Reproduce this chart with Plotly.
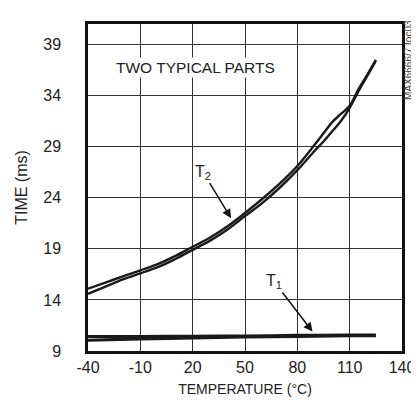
import plotly.graph_objects as go

temp_t2_a = [-40, -30, -20, -10, 0, 10, 20, 30, 40, 50, 60, 70, 80, 90, 95, 100, 105, 110, 115, 120, 125]
time_t2_a = [15.1, 15.7, 16.3, 16.9, 17.5, 18.3, 19.2, 20.1, 21.2, 22.5, 23.9, 25.4, 27.1, 29.2, 30.3, 31.4, 32.2, 33.0, 34.6, 36.0, 37.5]
temp_t2_b = [-40, -30, -20, -10, 0, 10, 20, 30, 40, 50, 60, 70, 80, 90, 95, 100, 105, 110, 115, 120, 125]
time_t2_b = [14.6, 15.3, 16.0, 16.6, 17.2, 18.0, 18.9, 19.8, 20.9, 22.2, 23.5, 25.0, 26.7, 28.6, 29.5, 30.5, 31.5, 32.8, 34.4, 35.9, 37.4]
temp_t1_a = [-40, -10, 20, 50, 80, 110, 125]
time_t1_a = [10.42, 10.42, 10.44, 10.47, 10.52, 10.55, 10.56]
temp_t1_b = [-40, -10, 20, 50, 80, 110, 125]
time_t1_b = [10.05, 10.18, 10.28, 10.37, 10.44, 10.49, 10.5]

x_ticks = [-40, -10, 20, 50, 80, 110, 140]
y_ticks = [9, 14, 19, 24, 29, 34, 39]

FONT = "Liberation Sans Narrow, Arial Narrow, Liberation Sans, sans-serif"

fig = go.Figure()
for xs, ys, w in [(temp_t2_a, time_t2_a, 2.4), (temp_t2_b, time_t2_b, 2.4),
                  (temp_t1_a, time_t1_a, 3.2), (temp_t1_b, time_t1_b, 3.2)]:
    fig.add_trace(go.Scatter(x=xs, y=ys, mode="lines",
                             line=dict(color="#1a1a1a", width=w, shape="spline"),
                             showlegend=False, hoverinfo="skip"))

fig.update_layout(
    width=419, height=402,
    margin=dict(l=79, r=13, t=16, b=59),
    paper_bgcolor="white", plot_bgcolor="white",
    font=dict(family=FONT, size=16, color="#222"),
    showlegend=False,
)
fig.update_xaxes(range=[-40, 140], tickvals=x_ticks, ticktext=[str(v) for v in x_ticks],
                 showgrid=True, gridcolor="#333", gridwidth=1,
                 showline=True, linecolor="#111", linewidth=2.5, mirror=True,
                 ticks="", zeroline=False,
                 tickfont=dict(size=16),
                 title=dict(text="TEMPERATURE (°C)", standoff=10, font=dict(size=14)))
fig.update_yaxes(range=[9, 41], tickvals=y_ticks, ticktext=[str(v) for v in y_ticks],
                 showgrid=True, gridcolor="#333", gridwidth=1,
                 showline=True, linecolor="#111", linewidth=2.5, mirror=True,
                 ticks="", zeroline=False, ticklabelstandoff=21,
                 tickfont=dict(size=16),
                 title=dict(text="TIME (ms)", standoff=12, font=dict(size=16)))

fig.add_annotation(x=21.9, y=36.7, xref="x", yref="y", text="TWO TYPICAL PARTS",
                   showarrow=False, font=dict(size=15.5), bgcolor="white")
fig.add_annotation(x=42, y=22.0, ax=25.9, ay=26.5, axref="x", ayref="y", xref="x", yref="y",
                   text="T<sub>2</sub>", showarrow=True, arrowhead=2, arrowsize=1.2,
                   arrowwidth=1.5, arrowcolor="#111", font=dict(size=16), bgcolor="white")
fig.add_annotation(x=88.7, y=10.9, ax=66.6, ay=15.8, axref="x", ayref="y", xref="x", yref="y",
                   text="T<sub>1</sub>", showarrow=True, arrowhead=2, arrowsize=1.2,
                   arrowwidth=1.5, arrowcolor="#111", font=dict(size=16), bgcolor="white")
fig.add_annotation(x=1.0, y=0.89, xref="paper", yref="paper", xanchor="center", yanchor="middle",
                   xshift=7, text="MAX6666/7 toc03", showarrow=False, textangle=-90,
                   font=dict(size=10, color="#444"))

fig.write_html("out.html")
